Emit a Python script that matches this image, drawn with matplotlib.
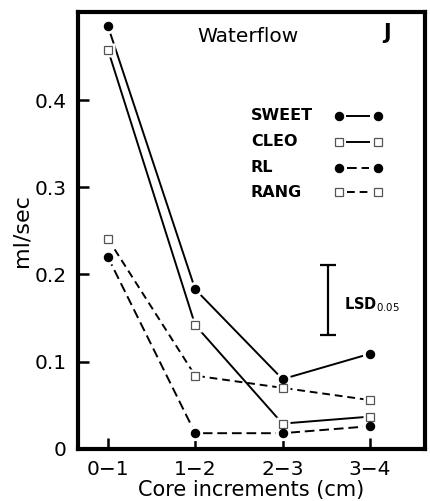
import matplotlib
matplotlib.use("Agg")
import matplotlib.pyplot as plt

plt.rcParams['font.family'] = ['DejaVu Sans']

increments = ["0\u22121", "1\u22122", "2\u22123", "3\u22124"]
sweet = [0.485, 0.183, 0.080, 0.109]
cleo = [0.458, 0.142, 0.029, 0.037]
rl = [0.220, 0.018, 0.018, 0.026]
rang = [0.241, 0.084, 0.070, 0.056]
names = ["SWEET", "CLEO", "RL", "RANG"]
lsd_center = 0.171
lsd_half = 0.040

x = [1, 2, 3, 4]

fig = plt.figure(figsize=(4.30, 5.01), dpi=100)
ax = fig.add_axes([0.181, 0.104, 0.807, 0.872])

styles = [
    dict(ls='-', marker='o', ms=6, mfc='black', mec='black', mew=0.8),
    dict(ls='-', marker='s', ms=5.5, mfc='white', mec='#555555', mew=0.9),
    dict(ls=(0, (5, 2.5)), marker='o', ms=6, mfc='black', mec='black', mew=0.8),
    dict(ls=(0, (4, 2.5)), marker='s', ms=5.5, mfc='white', mec='#555555', mew=0.9),
]
series = [sweet, cleo, rl, rang]

for vals, st in zip(series, styles):
    ax.plot(x, vals, color='black', lw=1.4, ls=st['ls'], zorder=2)
for vals, st in zip(series, styles):
    # white halo so lines stop short of the markers
    ax.plot(x, vals, ls='none', marker=st['marker'], ms=st['ms'] + 5, mfc='white', mec='none', zorder=3)
for vals, st in zip(series, styles):
    ax.plot(x, vals, ls='none', marker=st['marker'], ms=st['ms'], mfc=st['mfc'], mec=st['mec'],
            mew=st['mew'], zorder=4)

# legend drawn by hand: label on the left, sample on the right
rows = [0.762, 0.703, 0.643, 0.587]
for name, st, yy in zip(names, styles, rows):
    ax.text(0.499, yy, name, transform=ax.transAxes, fontsize=11.5, fontweight='bold',
            ha='left', va='center')
    ax.plot([0.775, 0.840], [yy, yy], transform=ax.transAxes, color='black', lw=1.4, ls=st['ls'])
    ax.plot([0.752, 0.865], [yy, yy], transform=ax.transAxes, ls='none', marker=st['marker'],
            ms=st['ms'], mfc=st['mfc'], mec=st['mec'], mew=st['mew'])

# LSD bar
ax.errorbar([3.52], [lsd_center], yerr=[lsd_half], color='black', capsize=5.5, lw=1.6, capthick=1.6)
ax.text(3.70, lsd_center - 0.006, "LSD$_{0.05}$", fontsize=10.5, fontweight='bold', va='center', ha='left')

ax.text(0.49, 0.945, "Waterflow", transform=ax.transAxes, fontsize=14.5, ha='center', va='center')
ax.text(0.89, 0.952, "J", transform=ax.transAxes, fontsize=15, fontweight='bold', ha='center', va='center')

ax.set_xlim(0.656, 4.63)
ax.set_ylim(0, 0.501)
ax.set_xticks(x)
ax.set_xticklabels(increments)
ax.set_yticks([0, 0.1, 0.2, 0.3, 0.4])
ax.set_yticklabels(["0", "0.1", "0.2", "0.3", "0.4"])
ax.tick_params(axis='both', direction='in', length=8, width=1.8, labelsize=14.5)
ax.tick_params(axis='x', pad=8)
ax.tick_params(axis='y', pad=8)
for s in ax.spines.values():
    s.set_linewidth(3)

ax.set_xlabel("Core increments (cm)", fontsize=15, labelpad=1)
ax.set_ylabel("ml/sec", fontsize=16, labelpad=2)

fig.savefig("out.png", dpi=100)
